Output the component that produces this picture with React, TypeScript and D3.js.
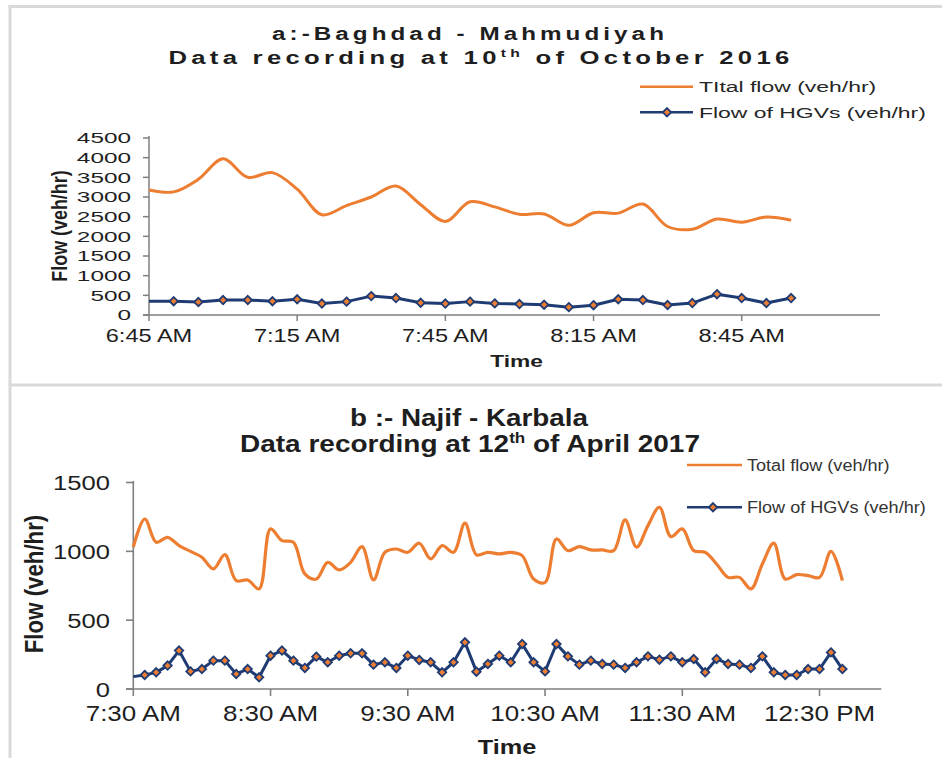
import React from "react";
import * as d3 from "d3";

// ---------- DATA ----------
// Chart a: Baghdad - Mahmudiyah (5-minute records from 6:45 AM)
const topStart = "6:45 AM";
const topEnd = "9:13 AM";
const topTotal = [3180, 3130, 3450, 3970, 3500, 3620, 3200, 2550, 2780, 3000, 3280, 2805, 2380, 2880, 2750, 2560, 2570, 2280, 2600, 2590, 2820, 2250, 2180, 2440, 2360, 2490, 2410];
const topHGV = [350, 350, 330, 380, 380, 350, 400, 290, 340, 480, 430, 310, 290, 340, 295, 278, 261, 200, 250, 400, 379, 253, 303, 530, 430, 303, 430];
const topXTicks = ["6:45 AM", "7:15 AM", "7:45 AM", "8:15 AM", "8:45 AM"];
const topYTicks = [0, 500, 1000, 1500, 2000, 2500, 3000, 3500, 4000, 4500];

// Chart b: Najif - Karbala (5-minute records from 7:30 AM)
const botStart = "7:30 AM";
const botEnd = "12:57 PM";
const botTotal = [1030, 1235, 1066, 1102, 1042, 1000, 957, 872, 976, 787, 792, 727, 1163, 1078, 1066, 836, 799, 920, 865, 920, 1034, 792, 993, 1017, 993, 1059, 945, 1042, 993, 1205, 975, 993, 981, 993, 969, 799, 775, 1090, 1005, 1034, 1010, 1010, 1005, 1228, 1030, 1187, 1320, 1107, 1163, 1005, 993, 908, 811, 811, 727, 908, 1059, 799, 831, 824, 811, 1000, 787];
const botHGV = [90, 102, 121, 170, 279, 128, 145, 206, 206, 109, 145, 85, 242, 279, 206, 153, 235, 194, 242, 259, 259, 177, 194, 153, 242, 211, 194, 121, 194, 339, 126, 182, 242, 194, 327, 194, 128, 327, 237, 177, 206, 182, 177, 153, 194, 237, 213, 237, 194, 218, 121, 218, 182, 177, 153, 237, 121, 102, 102, 145, 145, 266, 145];
const botXTicks = ["7:30 AM", "8:30 AM", "9:30 AM", "10:30 AM", "11:30 AM", "12:30 PM"];
const botYTicks = [0, 500, 1000, 1500];

const topLegend = ["TItal flow (veh/hr)", "Flow of HGVs (veh/hr)"];
const botLegend = ["Total flow (veh/hr)", "Flow of HGVs (veh/hr)"];

// ---------- STYLE ----------
const FONT = "'Liberation Sans', Arial, Helvetica, sans-serif";
const ORANGE = "#ED7D31";
const NAVY = "#1F3B73";
const AXIS = "#7F7F7F";
const TXT = "#1E1E1E";
const FRAME = "#D9D9D9";

const parse = d3.timeParse("%I:%M %p");
const timesFrom = (start: string, n: number) =>
  d3.range(n).map((i) => d3.timeMinute.offset(parse(start) as Date, 5 * i));

function SText(props: any) {
  const { x, y, sx = 1, sy = 1, rotate = 0, size, weight = 400, anchor = "start", fill = TXT, children } = props;
  return (
    <text
      transform={`translate(${x},${y}) rotate(${rotate}) scale(${sx},${sy})`}
      fontSize={size}
      fontWeight={weight}
      textAnchor={anchor}
      fill={fill}
      fontFamily={FONT}
    >
      {children}
    </text>
  );
}

const diamond = (r: number) => `M0,${-r}L${r},0L0,${r}L${-r},0Z`;

function Marker({ x, y }: { x: number; y: number }) {
  return <path d={diamond(4.2)} transform={`translate(${x},${y})`} fill={ORANGE} stroke={NAVY} strokeWidth={1.8} />;
}

function TopChart() {
  const times = timesFrom(topStart, topTotal.length);
  const x = d3.scaleTime().domain([parse(topStart) as Date, parse(topEnd) as Date]).range([149, 880]);
  const y = d3.scaleLinear().domain([0, 4500]).range([315, 138]);
  const smooth = d3.line<number>().x((_, i) => x(times[i])).y((d) => y(d)).curve(d3.curveCatmullRom.alpha(0.5));
  const straight = d3.line<number>().x((_, i) => x(times[i])).y((d) => y(d));
  return (
    <g>
      {/* titles */}
      <text x={470} y={40} textAnchor="middle" fontFamily={FONT} fontWeight={700} fontSize={18} letterSpacing={3} fill={TXT} textLength={396} lengthAdjust="spacingAndGlyphs">
        a:-Baghdad - Mahmudiyah
      </text>
      <text x={481} y={64} textAnchor="middle" fontFamily={FONT} fontWeight={700} fontSize={18} letterSpacing={3} fill={TXT} textLength={625} lengthAdjust="spacingAndGlyphs">
        Data recording at 10<tspan fontSize={11} dy={-7}>th</tspan><tspan dy={7}> of October 2016</tspan>
      </text>
      {/* legend */}
      <line x1={640} x2={693} y1={86.7} y2={86.7} stroke={ORANGE} strokeWidth={2.5} />
      <SText x={699} y={92} size={15} sx={1.53} fill="#262626">{topLegend[0]}</SText>
      <line x1={640} x2={693} y1={112.3} y2={112.3} stroke={NAVY} strokeWidth={2.5} />
      <Marker x={667} y={112.3} />
      <SText x={699} y={117.6} size={15} sx={1.53} fill="#262626">{topLegend[1]}</SText>
      {/* axes */}
      <line x1={149} x2={149} y1={136} y2={315} stroke={AXIS} strokeWidth={1.5} />
      <line x1={143} x2={880} y1={315} y2={315} stroke={AXIS} strokeWidth={1.5} />
      {topYTicks.map((t) => (
        <g key={t}>
          <line x1={143} x2={149} y1={y(t)} y2={y(t)} stroke={AXIS} strokeWidth={1.5} />
          <SText x={131} y={y(t) + 5.2} size={14.5} sx={1.68} anchor="end">{String(t)}</SText>
        </g>
      ))}
      {topXTicks.map((t) => {
        const px = x(parse(t) as Date);
        return (
          <g key={t}>
            <line x1={px} x2={px} y1={315} y2={321} stroke={AXIS} strokeWidth={1.5} />
            <SText x={px} y={342} size={18} sx={1.31} anchor="middle">{t}</SText>
          </g>
        );
      })}
      <SText x={516.5} y={367} size={17} sx={1.34} weight={700} anchor="middle">Time</SText>
      <SText x={67} y={226} size={16} rotate={-90} sx={1.12} sy={1.4} weight={700} anchor="middle">Flow (veh/hr)</SText>
      {/* series */}
      <path d={smooth(topTotal) || ""} fill="none" stroke={ORANGE} strokeWidth={3} />
      <path d={straight(topHGV) || ""} fill="none" stroke={NAVY} strokeWidth={3} strokeLinejoin="round" />
      {topHGV.map((v, i) => (i === 0 ? null : <Marker key={i} x={x(times[i])} y={y(v)} />))}
    </g>
  );
}

function BottomChart() {
  const times = timesFrom(botStart, botTotal.length);
  const x = d3.scaleTime().domain([parse(botStart) as Date, parse(botEnd) as Date]).range([133.3, 881.3]);
  const y = d3.scaleLinear().domain([0, 1500]).range([689, 482.5]);
  const smooth = d3.line<number>().x((_, i) => x(times[i])).y((d) => y(d)).curve(d3.curveCatmullRom.alpha(0.5));
  const straight = d3.line<number>().x((_, i) => x(times[i])).y((d) => y(d));
  return (
    <g>
      <text x={469} y={426} textAnchor="middle" fontFamily={FONT} fontWeight={700} fontSize={23} fill={TXT} textLength={238} lengthAdjust="spacingAndGlyphs">
        b :- Najif - Karbala
      </text>
      <text x={470} y={452} textAnchor="middle" fontFamily={FONT} fontWeight={700} fontSize={23} fill={TXT} textLength={460} lengthAdjust="spacingAndGlyphs">
        Data recording  at 12<tspan fontSize={14} dy={-9}>th</tspan><tspan dy={9}> of April  2017</tspan>
      </text>
      {/* legend */}
      <line x1={687} x2={742} y1={465} y2={465} stroke={ORANGE} strokeWidth={2.5} />
      <SText x={747} y={470.8} size={16} sx={1.13} fill="#333">{botLegend[0]}</SText>
      <line x1={687} x2={742} y1={507.3} y2={507.3} stroke={NAVY} strokeWidth={2.5} />
      <Marker x={713} y={507.3} />
      <SText x={747} y={513} size={16} sx={1.13} fill="#333">{botLegend[1]}</SText>
      {/* axes */}
      <line x1={133.3} x2={133.3} y1={481} y2={689} stroke={AXIS} strokeWidth={1.6} />
      <line x1={126} x2={881.3} y1={689} y2={689} stroke={AXIS} strokeWidth={1.6} />
      {botYTicks.map((t) => (
        <g key={t}>
          <line x1={126} x2={133.3} y1={y(t)} y2={y(t)} stroke={AXIS} strokeWidth={1.6} />
          <SText x={110} y={y(t) + 7.5} size={21} sx={1.22} anchor="end">{String(t)}</SText>
        </g>
      ))}
      {botXTicks.map((t) => {
        const px = x(parse(t) as Date);
        return (
          <g key={t}>
            <line x1={px} x2={px} y1={689} y2={696} stroke={AXIS} strokeWidth={1.6} />
            <SText x={px} y={721} size={22} sx={1.18} anchor="middle">{t}</SText>
          </g>
        );
      })}
      <SText x={507} y={754} size={19.5} sx={1.3} weight={700} anchor="middle">Time</SText>
      <SText x={43} y={584} size={21} rotate={-90} sx={1.06} sy={1.2} weight={700} anchor="middle">Flow (veh/hr)</SText>
      {/* series */}
      <path d={smooth(botTotal) || ""} fill="none" stroke={ORANGE} strokeWidth={3.2} />
      <path d={straight(botHGV) || ""} fill="none" stroke={NAVY} strokeWidth={3} strokeLinejoin="round" />
      {botHGV.map((v, i) => (i === 0 ? null : <Marker key={i} x={x(times[i])} y={y(v)} />))}
    </g>
  );
}

export default function App() {
  return (
    <svg width={942} height={758} style={{ position: "absolute", left: 0, top: 0, background: "#fff" }}>
      <rect x={0} y={0} width={942} height={758} fill="#fff" />
      {/* panel frame */}
      <line x1={8.5} x2={942} y1={6.5} y2={6.5} stroke={FRAME} strokeWidth={3} />
      <line x1={10} x2={10} y1={5} y2={758} stroke={FRAME} strokeWidth={3} />
      <line x1={8.5} x2={942} y1={385} y2={385} stroke={FRAME} strokeWidth={3} />
      <TopChart />
      <BottomChart />
    </svg>
  );
}
